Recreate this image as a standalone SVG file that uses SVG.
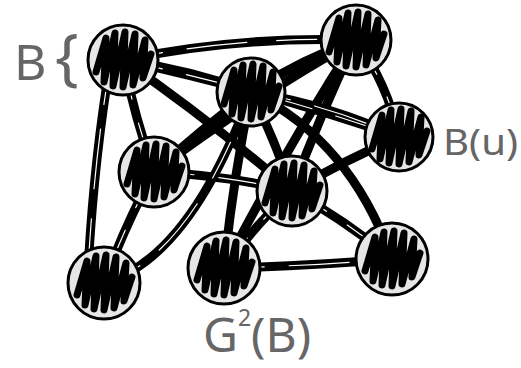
<svg xmlns="http://www.w3.org/2000/svg" xmlns:xlink="http://www.w3.org/1999/xlink" width="521" height="368" viewBox="0 0 521 368">
<style>
.e{fill:none;stroke:#000;stroke-width:9;stroke-linecap:round}
.g{fill:none;stroke:#fff;stroke-width:1.2;stroke-linecap:round;stroke-dasharray:40 25 60 30}
.n{fill:#e6e6e6;stroke:#000;stroke-width:3}
.h{fill:none;stroke:#000;stroke-width:7;stroke-linejoin:round;stroke-linecap:round}
.lbl{fill:#666;font-family:"Noto Sans","DejaVu Sans",sans-serif}
</style>
<defs>
<path id="hatch" d="M-27,12 L-17,-22 L-19,22 L-8,-27 L-10,26 L2,-28 L0,27 L12,-26 L10,25 L22,-20 L20,18 L28,-6"/>
<path id="e1" d="M123,60 Q240,36 356,40"/>
<path id="e2" d="M123,60 Q190,70 251,92"/>
<path id="e3" d="M123,60 Q135,118 154,172"/>
<path id="e4" d="M110,65 Q94,160 88,270"/>
<path id="e5" d="M123,60 Q210,120 292,191"/>
<path id="e6" d="M123,60 Q270,92 399,137"/>
<path id="e7" d="M356,40 Q300,60 251,92"/>
<path id="e8" d="M356,40 Q388,85 399,137"/>
<path id="e9" d="M356,40 Q250,100 154,172"/>
<path id="e10" d="M356,40 Q320,115 292,191"/>
<path id="e11" d="M356,40 Q285,150 224,268"/>
<path id="e12" d="M251,92 Q330,105 399,137"/>
<path id="e13" d="M251,92 Q200,130 154,172"/>
<path id="e14" d="M251,92 Q275,140 292,191"/>
<path id="e15" d="M251,92 Q233,180 224,268"/>
<path id="e16" d="M104,283 Q190,258 251,92"/>
<path id="e17" d="M399,137 Q345,160 292,191"/>
<path id="e18" d="M154,172 Q225,175 292,191"/>
<path id="e19" d="M154,172 Q125,225 104,283"/>
<path id="e20" d="M292,191 Q255,225 224,268"/>
<path id="e21" d="M292,191 Q345,220 392,259"/>
<path id="e22" d="M224,268 Q310,266 392,259"/>
<path id="e23" d="M251,92 Q350,140 392,259"/>
</defs>
<g id="connectors">
<use href="#e1" class="e"/><use href="#e2" class="e"/><use href="#e3" class="e"/><use href="#e4" class="e"/>
<use href="#e5" class="e"/><use href="#e6" class="e"/><use href="#e7" class="e"/><use href="#e8" class="e"/>
<use href="#e9" class="e"/><use href="#e10" class="e"/><use href="#e11" class="e"/><use href="#e12" class="e"/>
<use href="#e13" class="e"/><use href="#e14" class="e"/><use href="#e15" class="e"/><use href="#e16" class="e"/>
<use href="#e17" class="e"/><use href="#e18" class="e"/><use href="#e19" class="e"/><use href="#e20" class="e"/>
<use href="#e21" class="e"/><use href="#e22" class="e"/><use href="#e23" class="e"/>
<use href="#e1" class="g"/><use href="#e3" class="g"/><use href="#e4" class="g"/><use href="#e8" class="g"/>
<use href="#e12" class="g"/><use href="#e16" class="g"/><use href="#e18" class="g"/><use href="#e19" class="g"/>
<use href="#e20" class="g"/><use href="#e21" class="g"/><use href="#e22" class="g"/><use href="#e6" class="g"/>
</g>
<g id="n1" transform="translate(123,60)"><circle class="n" r="35"/><use href="#hatch" class="h"/></g>
<g id="n2" transform="translate(356,40)"><circle class="n" r="35"/><use href="#hatch" class="h"/></g>
<g id="n3" transform="translate(251,92)"><circle class="n" r="34"/><use href="#hatch" class="h"/></g>
<g id="n4" transform="translate(399,137)"><circle class="n" r="34"/><use href="#hatch" class="h"/></g>
<g id="n5" transform="translate(154,172)"><circle class="n" r="35"/><use href="#hatch" class="h"/></g>
<g id="n6" transform="translate(292,191)"><circle class="n" r="35"/><use href="#hatch" class="h"/></g>
<g id="n7" transform="translate(104,283)"><circle class="n" r="36"/><use href="#hatch" class="h"/></g>
<g id="n8" transform="translate(224,268)"><circle class="n" r="36"/><use href="#hatch" class="h"/></g>
<g id="n9" transform="translate(392,259)"><circle class="n" r="36"/><use href="#hatch" class="h"/></g>
<g id="labels">
<text class="lbl" x="14" y="80" font-size="50">B</text>
<text class="lbl" x="55" y="78" font-size="62">{</text>
<text class="lbl" x="443" y="155" font-size="36" textLength="75" lengthAdjust="spacingAndGlyphs">B(u)</text>
<text class="lbl" x="203" y="352" font-size="48">G<tspan font-size="23" dy="-26">2</tspan><tspan dy="26">(B)</tspan></text>
</g>
</svg>
